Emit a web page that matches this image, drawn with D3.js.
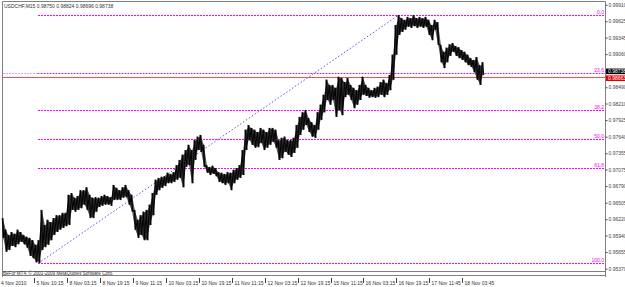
<!DOCTYPE html>
<html lang="en">
<head>
<meta charset="UTF-8">
<title>USDCHF,M15</title>
<script src="https://cdnjs.cloudflare.com/ajax/libs/d3/7.8.5/d3.min.js"></script>
<style>
  body { margin: 0; background: #fff; }
  svg { display: block; font-family: "Liberation Sans", Arial, sans-serif; }
</style>
</head>
<body>
<div id="chart"></div>
<script>
// header
const symbol = "USDCHF,M15";
const ohlc = [0.98750, 0.98824, 0.98696, 0.98738];

// sampled bar highs / lows (one entry ~ 1.5h of M15 bars)
const highs = [0.9624,0.9604,0.9595,0.9600,0.9597,0.9604,0.9600,0.9595,0.9592,0.9590,0.9586,0.9578,0.9586,
  0.9638,0.9612,0.9621,0.9617,0.9624,0.9629,0.9629,0.9633,0.9633,0.9664,0.9667,0.9659,0.9662,0.9672,0.9672,
  0.9677,0.9664,0.9659,0.9660,0.9659,0.9662,0.9664,0.9662,0.9660,0.9681,0.9676,0.9672,0.9677,0.9681,0.9672,
  0.9664,0.9638,0.9621,0.9629,0.9635,0.9638,0.9647,0.9667,0.9690,0.9693,0.9695,0.9696,0.9702,0.9700,0.9703,
  0.9715,0.9724,0.9733,0.9741,0.9750,0.9741,0.9758,0.9764,0.9767,0.9750,0.9715,0.9712,0.9714,0.9710,0.9703,
  0.9702,0.9700,0.9703,0.9702,0.9707,0.9710,0.9715,0.9741,0.9776,0.9784,0.9779,0.9776,0.9772,0.9779,0.9776,
  0.9772,0.9779,0.9779,0.9776,0.9758,0.9762,0.9764,0.9758,0.9758,0.9762,0.9784,0.9798,0.9806,0.9810,0.9796,
  0.9789,0.9784,0.9806,0.9819,0.9836,0.9862,0.9853,0.9853,0.9848,0.9867,0.9865,0.9858,0.9865,0.9853,0.9848,
  0.9844,0.9853,0.9867,0.9853,0.9848,0.9844,0.9848,0.9850,0.9858,0.9862,0.9856,0.9870,0.9905,0.9956,0.9973,
  0.9968,0.9965,0.9970,0.9968,0.9973,0.9968,0.9970,0.9968,0.9970,0.9965,0.9956,0.9965,0.9961,0.9922,0.9910,
  0.9917,0.9923,0.9925,0.9920,0.9918,0.9913,0.9910,0.9905,0.9899,0.9896,0.9901,0.9887,0.9892];
const lows = [0.9590,0.9566,0.9569,0.9576,0.9574,0.9579,0.9583,0.9579,0.9573,0.9559,0.9555,0.9548,0.9547,
  0.9569,0.9574,0.9578,0.9586,0.9595,0.9600,0.9604,0.9607,0.9610,0.9612,0.9638,0.9635,0.9638,0.9641,0.9647,
  0.9638,0.9624,0.9624,0.9635,0.9643,0.9645,0.9647,0.9647,0.9645,0.9655,0.9655,0.9655,0.9659,0.9660,0.9647,
  0.9635,0.9604,0.9590,0.9595,0.9586,0.9586,0.9612,0.9629,0.9664,0.9672,0.9676,0.9679,0.9684,0.9684,0.9686,
  0.9690,0.9693,0.9677,0.9712,0.9715,0.9684,0.9724,0.9741,0.9738,0.9712,0.9702,0.9698,0.9700,0.9696,0.9686,
  0.9684,0.9681,0.9684,0.9672,0.9684,0.9690,0.9693,0.9698,0.9741,0.9758,0.9750,0.9745,0.9746,0.9753,0.9741,
  0.9745,0.9750,0.9755,0.9745,0.9724,0.9727,0.9738,0.9733,0.9729,0.9736,0.9745,0.9767,0.9776,0.9784,0.9772,
  0.9764,0.9762,0.9776,0.9793,0.9806,0.9827,0.9819,0.9827,0.9798,0.9810,0.9801,0.9832,0.9836,0.9827,0.9813,
  0.9819,0.9827,0.9836,0.9834,0.9831,0.9832,0.9831,0.9832,0.9836,0.9832,0.9836,0.9844,0.9862,0.9905,0.9939,
  0.9944,0.9948,0.9953,0.9951,0.9954,0.9951,0.9953,0.9951,0.9953,0.9939,0.9930,0.9948,0.9922,0.9892,0.9882,
  0.9892,0.9903,0.9910,0.9903,0.9899,0.9896,0.9892,0.9887,0.9884,0.9875,0.9862,0.9853,0.9870];

// price scale labels (right side)
const priceTicks = [0.99910,0.99625,0.99345,0.99060,0.98775,0.98490,0.98210,0.97925,0.97640,
  0.97355,0.97075,0.96790,0.96505,0.96220,0.95940,0.95655,0.95370];

// time scale labels (position in sample index)
const timeLabels = ["5 Nov 10:15","8 Nov 03:15","8 Nov 19:15","9 Nov 11:15","10 Nov 03:15","10 Nov 19:15",
  "11 Nov 11:15","12 Nov 03:15","12 Nov 19:15","15 Nov 11:15","16 Nov 03:15","16 Nov 19:15",
  "17 Nov 11:45","18 Nov 03:45"];
const timeIdx = [10.4,21.4,32.4,43.4,54.3,65.3,76.3,87.2,98.2,109.2,120.1,131.1,142.1,153.0];

// fibonacci retracement
const fibLevels = [0, 23.6, 38.2, 50, 61.8, 100];
const fibHigh = 0.99736, fibLow = 0.95464;
const fibHighIdx = 132, fibLowIdx = 11.8;

const bidPrice = 0.98738, linePrice = 0.98663;

const width = 625, height = 287;
const plotRight = 605, plotBottom = 270;

const svg = d3.select("#chart").append("svg")
  .attr("width", width).attr("height", height);

const x = d3.scaleLinear().domain([0, highs.length - 1]).range([3, 483]);
const y = d3.scaleLinear().domain([0.95347, 0.99991]).range([plotBottom, 0]);
const py = v => Math.round(y(v)) + 0.5;

// frame
svg.append("path")
  .attr("d", `M2.5,${height - 10}V1.5H${plotRight + 0.5}V${height - 10}`)
  .attr("fill", "none").attr("stroke", "#808080");

// copyright strip
svg.append("line").attr("x1", 2).attr("x2", plotRight).attr("y1", 271.5).attr("y2", 271.5)
  .attr("stroke", "#808080").attr("stroke-width", 1.2);
svg.append("line").attr("x1", 2).attr("x2", plotRight).attr("y1", 275.5).attr("y2", 275.5)
  .attr("stroke", "#808080").attr("stroke-width", 1.2);
svg.append("text").attr("x", 3).attr("y", 275.2)
  .attr("font-size", "4.6px").attr("fill", "#333")
  .text("BeFor MT4, \u00a9 2001-2009 MetaQuotes Software Corp.");

// fib lines
const fibPrice = p => fibHigh - (fibHigh - fibLow) * p / 100;
svg.append("g").attr("shape-rendering", "crispEdges")
  .selectAll("line").data(fibLevels).join("line")
  .attr("x1", x(fibLowIdx)).attr("x2", plotRight)
  .attr("y1", d => py(fibPrice(d))).attr("y2", d => py(fibPrice(d)))
  .attr("stroke", "#ff00ff").attr("stroke-dasharray", "2,1");
svg.append("g").selectAll("text").data(fibLevels).join("text")
  .attr("x", plotRight - 1).attr("y", d => y(fibPrice(d)) - 1)
  .attr("text-anchor", "end").attr("font-size", "5px").attr("fill", "#ff00ff")
  .text(d => d.toFixed(1));

// fib base trendline
svg.append("line")
  .attr("x1", x(fibLowIdx)).attr("y1", y(fibLow))
  .attr("x2", x(fibHighIdx)).attr("y2", y(fibHigh))
  .attr("stroke", "#5a5ad0").attr("stroke-dasharray", "1.5,2");

// bid line and red line
svg.append("line").attr("x1", 3).attr("x2", plotRight)
  .attr("y1", py(bidPrice)).attr("y2", py(bidPrice))
  .attr("stroke", "#e8a0e8").attr("stroke-dasharray", "2,1").attr("shape-rendering", "crispEdges");
svg.append("line").attr("x1", 3).attr("x2", plotRight)
  .attr("y1", py(linePrice)).attr("y2", py(linePrice))
  .attr("stroke", "#f05050").attr("shape-rendering", "crispEdges");

// price bars: soft high-low band, vertical bars and a zigzag
const bars = d3.range(highs.length).map(i => ({i, h: highs[i], l: lows[i]}));
svg.append("path").datum(bars)
  .attr("d", d3.area().x(d => x(d.i)).y0(d => y(d.l) - 1).y1(d => y(d.h) + 1))
  .attr("fill", "#555");
const zig = [];
bars.forEach(d => { zig.push([x(d.i) - 0.8, y(d.h)]); zig.push([x(d.i) + 0.8, y(d.l)]); });
svg.append("path")
  .attr("d", d3.line()(zig))
  .attr("fill", "none").attr("stroke", "#000").attr("stroke-width", 1);
svg.append("g").selectAll("line").data(bars).join("line")
  .attr("x1", d => x(d.i)).attr("x2", d => x(d.i))
  .attr("y1", d => y(d.h)).attr("y2", d => y(d.l))
  .attr("stroke", "#000").attr("stroke-width", 1);

// price axis
const yAxis = svg.append("g").attr("transform", `translate(${plotRight + 0.5},0)`)
  .call(d3.axisRight(y).tickValues(priceTicks).tickSize(2).tickPadding(1).tickFormat(d3.format(".5f")));
yAxis.select(".domain").remove();
yAxis.selectAll("line").attr("stroke", "#444");
yAxis.selectAll("text").attr("font-size", "5px").attr("fill", "#444")
  .attr("font-family", "'Liberation Sans', Arial, sans-serif");

// current price labels
const boxes = [{p: bidPrice, fill: "#000", dy: -1.5}, {p: linePrice, fill: "#e00000", dy: 1}];
boxes.forEach(b => {
  svg.append("rect").attr("x", plotRight + 1).attr("y", y(b.p) + b.dy - 2.8)
    .attr("width", 20).attr("height", 5.6).attr("fill", b.fill);
  svg.append("text").attr("x", plotRight + 3).attr("y", y(b.p) + b.dy + 1.8)
    .attr("font-size", "5px").attr("fill", "#fff").text(b.p.toFixed(5));
});

// time axis
svg.append("text").attr("x", 1).attr("y", 284.5).attr("font-size", "5px").attr("fill", "#333")
  .text("4 Nov 2010");
const tg = svg.append("g").selectAll("g").data(timeLabels).join("g")
  .attr("transform", (d, i) => `translate(${Math.round(x(timeIdx[i])) + 0.5},0)`);
tg.append("line").attr("y1", 278).attr("y2", 283).attr("stroke", "#444");
tg.append("text").attr("x", 2).attr("y", 284.5).attr("font-size", "5px").attr("fill", "#333")
  .text(d => d);

// header
svg.append("text").attr("x", 4).attr("y", 7.5).attr("font-size", "5px").attr("fill", "#333")
  .text(symbol + "  " + ohlc.map(v => v.toFixed(5)).join(" "));
</script>
</body>
</html>
